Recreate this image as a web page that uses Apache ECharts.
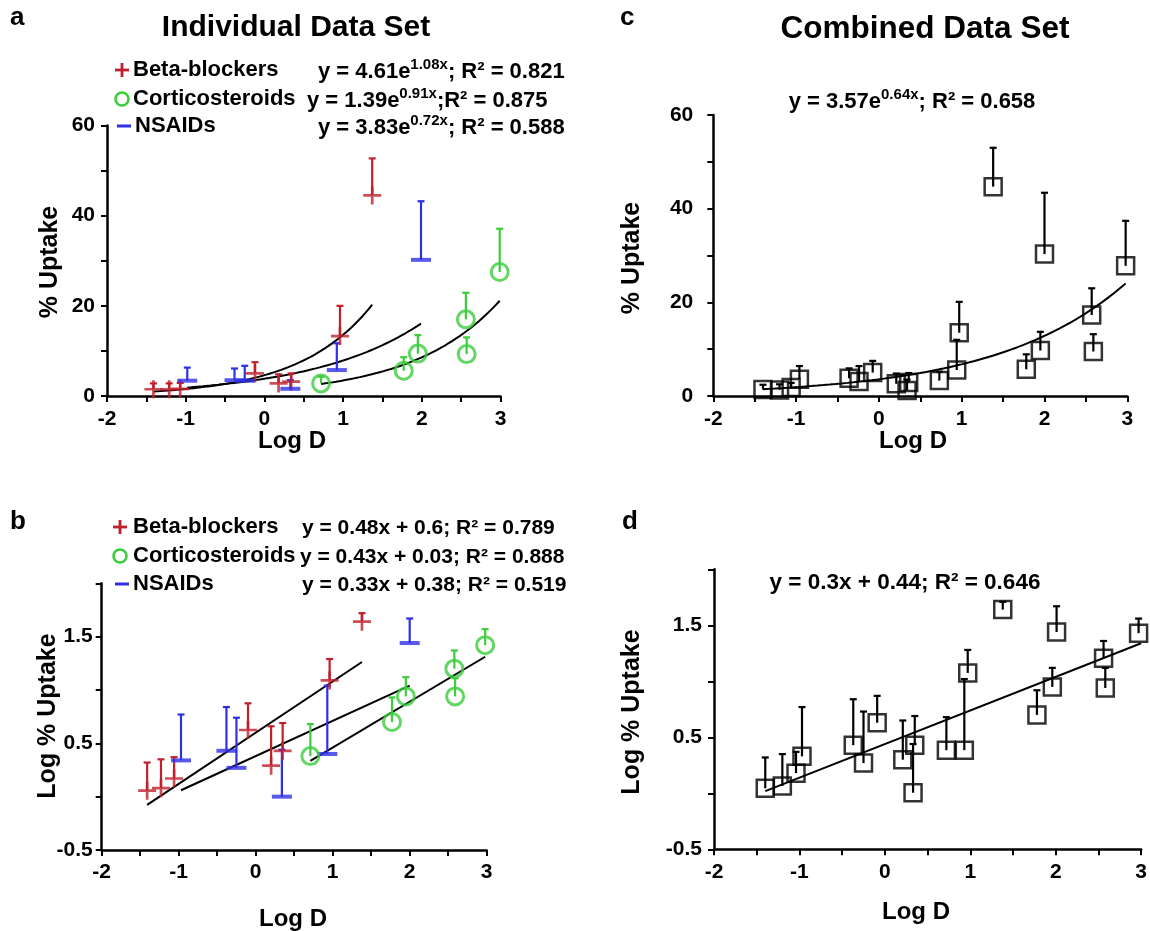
<!DOCTYPE html>
<html>
<head>
<meta charset="utf-8">
<script src="https://cdn.jsdelivr.net/npm/echarts@6/dist/echarts.min.js"></script>
<style>
html,body{margin:0;padding:0;background:#fff;}
#chart{width:1150px;height:931px;}
</style>
</head>
<body>
<div id="chart"></div>
<script>
// ---------- DATA ----------
// Panel a: Individual data set, % uptake vs Log D
var betaA_x = [-1.41, -1.21, -1.07, -0.12, 0.18, 0.34, 0.96, 1.37];
var betaA_y = [1.5, 1.5, 1.6, 5.0, 2.8, 3.2, 13.3, 44.5];
var betaA_top = [2.8, 2.8, 2.9, 7.5, 4.8, 5.0, 20.0, 52.7];
var nsaidA_x = [-0.98, -0.38, -0.25, 0.33, 0.92, 1.99];
var nsaidA_y = [3.4, 3.5, 3.4, 1.6, 5.75, 30.2];
var nsaidA_top = [6.3, 6.1, 6.7, 3.5, 11.7, 43.2];
var corticoA_x = [0.72, 1.77, 1.95, 2.56, 2.57, 2.99];
var corticoA_y = [2.8, 5.6, 9.4, 17.0, 9.3, 27.5];
var corticoA_top = [4.3, 8.6, 13.5, 22.9, 13.0, 37.1];
// exponential fits y = a*e^(b x): [a, b, xStart, xEnd]
var betaFitA = [4.61, 1.08, -1.41, 1.37];
var corticoFitA = [1.39, 0.91, 0.72, 2.99];
var nsaidFitA = [3.83, 0.72, -0.98, 1.99];

// Panel b: Individual data set, log % uptake
var betaB_x = [-1.41, -1.23, -1.06, -0.10, 0.20, 0.35, 0.96, 1.38];
var betaB_y = [0.056, 0.08, 0.17, 0.625, 0.29, 0.43, 1.09, 1.64];
var betaB_top = [0.32, 0.35, 0.37, 0.875, 0.66, 0.69, 1.29, 1.72];
var nsaidB_x = [-0.97, -0.38, -0.25, 0.34, 0.93, 2.0];
var nsaidB_y = [0.34, 0.43, 0.27, 0.0, 0.40, 1.44];
var nsaidB_top = [0.77, 0.84, 0.74, 0.44, 1.04, 1.67];
var corticoB_x = [0.71, 1.77, 1.95, 2.58, 2.59, 2.98];
var corticoB_y = [0.38, 0.70, 0.94, 1.20, 0.94, 1.42];
var corticoB_top = [0.68, 0.93, 1.12, 1.37, 1.11, 1.57];
// linear fits y = m x + c: [m, c, xStart, xEnd]
var betaFitB = [0.48, 0.6, -1.41, 1.38];
var corticoFitB = [0.43, 0.03, 0.71, 2.98];
var nsaidFitB = [0.33, 0.38, -0.97, 2.0];

// Panel c: combined data set, % uptake
var comb_x = [-1.40, -1.20, -1.06, -0.96, -0.36, -0.24, -0.075, 0.21, 0.36, 0.34, 0.73, 0.94, 0.97, 1.38, 1.78, 1.95, 2.0, 2.57, 2.59, 2.98];
var combC_y = [1.4, 1.3, 1.8, 3.6, 3.8, 3.1, 5.0, 2.6, 2.9, 1.2, 3.3, 5.55, 13.5, 44.7, 5.7, 9.7, 30.3, 17.3, 9.5, 27.8];
var combC_top = [2.4, 2.5, 2.8, 6.4, 5.9, 6.4, 7.5, 4.8, 4.9, 3.5, 5.2, 12.0, 20.1, 53.0, 8.9, 13.7, 43.4, 23.0, 13.2, 37.4];
var combFitC = [3.57, 0.64, -1.40, 2.98];

// Panel d: combined data set, log % uptake
var combD_x = [-1.40, -1.20, -1.04, -0.97, -0.37, -0.25, -0.09, 0.21, 0.35, 0.33, 0.72, 0.93, 0.97, 1.38, 1.78, 1.96, 2.01, 2.56, 2.58, 2.97];
var combD_y = [0.045, 0.065, 0.18, 0.33, 0.43, 0.27, 0.63, 0.30, 0.43, 0.005, 0.385, 0.385, 1.075, 1.64, 0.70, 0.95, 1.44, 1.205, 0.94, 1.43];
var combD_top = [0.32, 0.35, 0.37, 0.77, 0.84, 0.73, 0.87, 0.65, 0.69, 0.44, 0.68, 1.02, 1.28, 1.71, 0.92, 1.12, 1.67, 1.36, 1.12, 1.56];
var combFitD = [0.3, 0.44, -1.40, 3.0];

var xTicks = [-2, -1, 0, 1, 2, 3];
var yTicksLin = [0, 20, 40, 60];
var yTicksLog = [-0.5, 0.5, 1.5];

// ---------- helpers ----------
var RED = '#c0202c', BLUE = '#2f2fe6', GREEN = '#3ccc3c', BLACK = '#000';
var FONT = 'Liberation Sans, Arial, sans-serif';

function zip(xs, ys) { return xs.map(function (x, i) { return [x, ys[i]]; }); }
function zip3(xs, ys, ts) { return xs.map(function (x, i) { return [x, ys[i], ts[i]]; }); }
function expCurve(f) {
  var pts = [], n = 60;
  for (var i = 0; i <= n; i++) { var x = f[2] + (f[3] - f[2]) * i / n; pts.push([x, f[0] * Math.exp(f[1] * x)]); }
  return pts;
}
function linCurve(f) { return [[f[2], f[0] * f[2] + f[1]], [f[3], f[0] * f[3] + f[1]]]; }
function inList(list, v) { return list.some(function (t) { return Math.abs(t - v) < 1e-6; }); }

function xAxisCfg(gi, margin) {
  return {
    type: 'value', gridIndex: gi, min: -2, max: 3, interval: 0.5,
    axisLine: { show: true, onZero: false, lineStyle: { color: BLACK, width: 2.5 } },
    axisTick: { show: true, length: 6, lineStyle: { color: BLACK, width: 2 } },
    axisLabel: { fontSize: 21, fontWeight: 'bold', color: BLACK, fontFamily: FONT, margin: margin,
      formatter: function (v) { return inList(xTicks, v) ? String(v) : ''; } },
    splitLine: { show: false }
  };
}
function yAxisCfg(gi, log, margin) {
  return {
    type: 'value', gridIndex: gi,
    min: log ? -0.5 : 0, max: log ? 2 : 60, interval: log ? 0.5 : 10,
    axisLine: { show: true, onZero: false, lineStyle: { color: BLACK, width: 2.5 } },
    axisTick: { show: true, length: 6, lineStyle: { color: BLACK, width: 2 } },
    axisLabel: { fontSize: 21, fontWeight: 'bold', color: BLACK, fontFamily: FONT, margin: margin,
      formatter: function (v) { return inList(log ? yTicksLog : yTicksLin, v) ? String(v) : ''; } },
    splitLine: { show: false }
  };
}
function errSeries(gi, data, color) {
  return {
    type: 'custom', xAxisIndex: gi, yAxisIndex: gi, data: data, z: 4, silent: true,
    encode: { x: 0, y: [1, 2] },
    renderItem: function (params, api) {
      var p0 = api.coord([api.value(0), api.value(1)]);
      var p1 = api.coord([api.value(0), api.value(2)]);
      return { type: 'group', children: [
        { type: 'line', shape: { x1: p0[0], y1: p0[1], x2: p1[0], y2: p1[1] }, style: { stroke: color, lineWidth: 2.2 } },
        { type: 'line', shape: { x1: p1[0] - 3.5, y1: p1[1], x2: p1[0] + 3.5, y2: p1[1] }, style: { stroke: color, lineWidth: 2.2 } }
      ] };
    }
  };
}
var PLUS = 'path://M0,4.25 L10,4.25 L10,5.75 L0,5.75 Z M4.25,0 L5.75,0 L5.75,10 L4.25,10 Z';
function scat(gi, data, kind) {
  var s = { type: 'scatter', xAxisIndex: gi, yAxisIndex: gi, data: data, z: 5, silent: true };
  if (kind === 'plus') { s.symbol = PLUS; s.symbolSize = 18; s.itemStyle = { color: RED }; }
  else if (kind === 'dash') { s.symbol = 'rect'; s.symbolSize = [20, 4]; s.itemStyle = { color: BLUE }; }
  else if (kind === 'circle') { s.symbol = 'circle'; s.symbolSize = 17; s.itemStyle = { color: 'rgba(0,0,0,0)', borderColor: GREEN, borderWidth: 3 }; }
  else { s.symbol = 'rect'; s.symbolSize = 17; s.itemStyle = { color: 'rgba(0,0,0,0)', borderColor: BLACK, borderWidth: 2.5 }; }
  return s;
}
function fitLine(gi, pts) {
  return { type: 'line', xAxisIndex: gi, yAxisIndex: gi, data: pts, showSymbol: false, symbol: 'none', smooth: false,
    lineStyle: { color: BLACK, width: 2 }, z: 3, silent: true, animation: false };
}

// ---------- text graphics ----------
function txt(x, y, text, size, opts) {
  opts = opts || {};
  return { type: 'text', x: x, y: y, rotation: opts.rot || 0, silent: true,
    style: { text: text, fontSize: size, fontWeight: 'bold', fontFamily: FONT, fill: opts.fill || BLACK,
      align: opts.align || 'center', verticalAlign: 'middle' } };
}
function eqTxt(x, y, pre, sup, post, align, size, supSize) {
  size = size || 21; supSize = supSize || 14;
  return { type: 'text', x: x, y: y, silent: true,
    style: { text: '{m|' + pre + '}' + (sup ? '{s|' + sup + '}' : '') + (post ? '{m|' + post + '}' : ''),
      align: align || 'left', verticalAlign: 'middle', fill: BLACK,
      rich: { m: { fontSize: size, fontWeight: 'bold', fontFamily: FONT, fill: BLACK, lineHeight: size + 3, verticalAlign: 'bottom' },
              s: { fontSize: supSize, fontWeight: 'bold', fontFamily: FONT, fill: BLACK, lineHeight: supSize, verticalAlign: 'top' } } } };
}
function legPlus(cx, cy) {
  return [
    { type: 'rect', silent: true, shape: { x: cx - 7, y: cy - 1.4, width: 14, height: 2.8 }, style: { fill: RED } },
    { type: 'rect', silent: true, shape: { x: cx - 1.4, y: cy - 7, width: 2.8, height: 14 }, style: { fill: RED } }
  ];
}
function legCircle(cx, cy) {
  return { type: 'circle', silent: true, shape: { cx: cx, cy: cy, r: 6.5 }, style: { fill: 'none', stroke: GREEN, lineWidth: 2.6 } };
}
function legDash(cx, cy) {
  return { type: 'rect', silent: true, shape: { x: cx - 7, y: cy - 1.5, width: 14, height: 3 }, style: { fill: BLUE } };
}

var graphics = [];
// panel a
graphics.push(txt(10, 18, 'a', 26, { align: 'left' }));
graphics.push(txt(296, 28, 'Individual Data Set', 30));
graphics = graphics.concat(legPlus(122, 70));
graphics.push(legCircle(122, 99));
graphics.push(legDash(124, 126));
graphics.push(txt(133, 70, 'Beta-blockers', 22, { align: 'left' }));
graphics.push(txt(133, 99, 'Corticosteroids', 22, { align: 'left' }));
graphics.push(txt(135, 126, 'NSAIDs', 22, { align: 'left' }));
graphics.push(eqTxt(318, 70, 'y = 4.61e', '1.08x', '; R² = 0.821', 'left', 22, 15));
graphics.push(eqTxt(307, 99, 'y = 1.39e', '0.91x', ';R² = 0.875', 'left', 22, 15));
graphics.push(eqTxt(318, 126, 'y = 3.83e', '0.72x', '; R² = 0.588', 'left', 22, 15));
graphics.push(txt(50, 262, '% Uptake', 25, { rot: Math.PI / 2 }));
graphics.push(txt(292, 441, 'Log D', 24));
// panel b
graphics.push(txt(10, 522, 'b', 26, { align: 'left' }));
graphics = graphics.concat(legPlus(120, 527));
graphics.push(legCircle(120, 556));
graphics.push(legDash(122, 584));
graphics.push(txt(133, 527, 'Beta-blockers', 22, { align: 'left' }));
graphics.push(txt(133, 556, 'Corticosteroids', 22, { align: 'left' }));
graphics.push(txt(133, 584, 'NSAIDs', 22, { align: 'left' }));
graphics.push(eqTxt(302, 527, 'y = 0.48x + 0.6; R² = 0.789', '', ''));
graphics.push(eqTxt(300, 556, 'y = 0.43x + 0.03; R² = 0.888', '', ''));
graphics.push(eqTxt(302, 584, 'y = 0.33x + 0.38; R² = 0.519', '', ''));
graphics.push(txt(48, 716, 'Log % Uptake', 25, { rot: Math.PI / 2 }));
graphics.push(txt(293, 919, 'Log D', 24));
// panel c
graphics.push(txt(620, 18, 'c', 26, { align: 'left' }));
graphics.push(txt(925, 29, 'Combined Data Set', 31.5));
graphics.push(eqTxt(912, 100, 'y = 3.57e', '0.64x', '; R² = 0.658', 'center', 22, 15));
graphics.push(txt(632, 258, '% Uptake', 25, { rot: Math.PI / 2 }));
graphics.push(txt(913, 441, 'Log D', 24));
// panel d
graphics.push(txt(622, 522, 'd', 26, { align: 'left' }));
graphics.push(eqTxt(905, 582, 'y = 0.3x + 0.44; R² = 0.646', '', '', 'center', 22.5));
graphics.push(txt(632, 712, 'Log % Uptake', 25, { rot: Math.PI / 2 }));
graphics.push(txt(916, 912, 'Log D', 24));

// ---------- chart ----------
var chart = echarts.init(document.getElementById('chart'), null, { renderer: 'canvas' });
chart.setOption({
  animation: false,
  backgroundColor: '#fff',
  grid: [
    { left: 107, top: 125.5, width: 393.5, height: 270.5 },
    { left: 101.7, top: 583.3, width: 385, height: 266.7 },
    { left: 713.3, top: 115, width: 414, height: 281 },
    { left: 714, top: 569.3, width: 428.3, height: 280 }
  ],
  xAxis: [xAxisCfg(0, 13), xAxisCfg(1, 12), xAxisCfg(2, 13), xAxisCfg(3, 12)],
  yAxis: [yAxisCfg(0, false, 12), yAxisCfg(1, true, 9), yAxisCfg(2, false, 20), yAxisCfg(3, true, 12)],
  series: [
    // panel a
    fitLine(0, expCurve(betaFitA)), fitLine(0, expCurve(corticoFitA)), fitLine(0, expCurve(nsaidFitA)),
    errSeries(0, zip3(betaA_x, betaA_y, betaA_top), RED),
    errSeries(0, zip3(nsaidA_x, nsaidA_y, nsaidA_top), BLUE),
    errSeries(0, zip3(corticoA_x, corticoA_y, corticoA_top), GREEN),
    scat(0, zip(betaA_x, betaA_y), 'plus'), scat(0, zip(nsaidA_x, nsaidA_y), 'dash'), scat(0, zip(corticoA_x, corticoA_y), 'circle'),
    // panel b
    fitLine(1, linCurve(betaFitB)), fitLine(1, linCurve(corticoFitB)), fitLine(1, linCurve(nsaidFitB)),
    errSeries(1, zip3(betaB_x, betaB_y, betaB_top), RED),
    errSeries(1, zip3(nsaidB_x, nsaidB_y, nsaidB_top), BLUE),
    errSeries(1, zip3(corticoB_x, corticoB_y, corticoB_top), GREEN),
    scat(1, zip(betaB_x, betaB_y), 'plus'), scat(1, zip(nsaidB_x, nsaidB_y), 'dash'), scat(1, zip(corticoB_x, corticoB_y), 'circle'),
    // panel c
    fitLine(2, expCurve(combFitC)),
    scat(2, zip(comb_x, combC_y), 'square'),
    errSeries(2, zip3(comb_x, combC_y, combC_top), BLACK),
    // panel d
    fitLine(3, linCurve(combFitD)),
    scat(3, zip(combD_x, combD_y), 'square'),
    errSeries(3, zip3(combD_x, combD_y, combD_top), BLACK)
  ],
  graphic: graphics
});
</script>
</body>
</html>
